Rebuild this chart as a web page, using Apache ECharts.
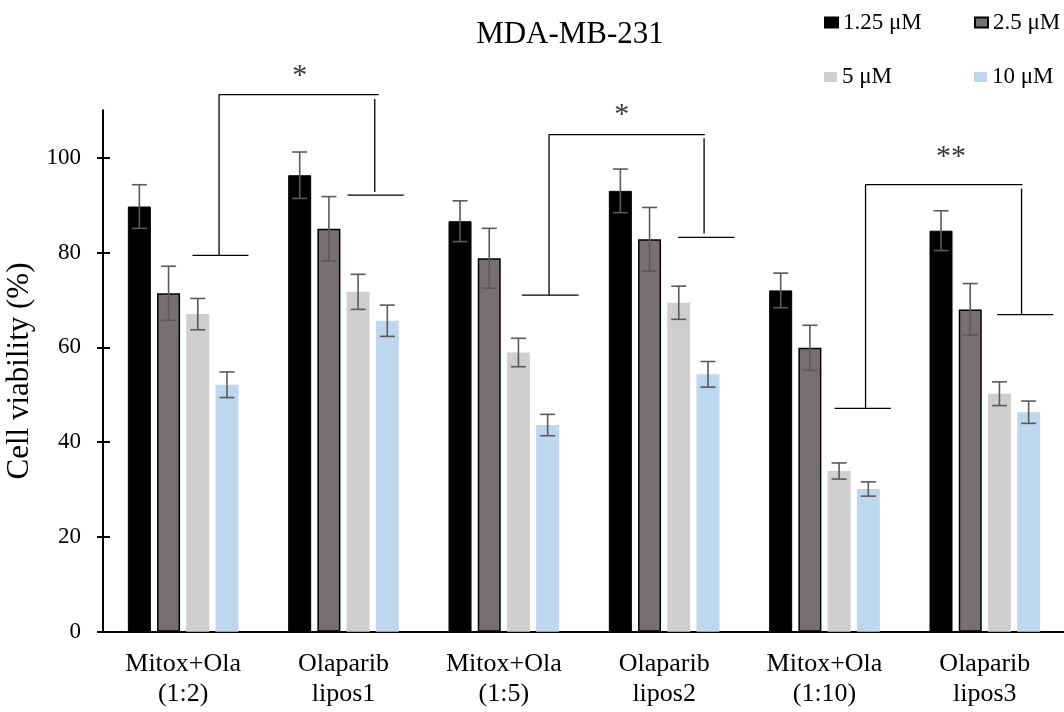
<!DOCTYPE html>
<html>
<head>
<meta charset="utf-8">
<script src="https://cdn.jsdelivr.net/npm/echarts@6/dist/echarts.min.js"></script>
<style>html,body{margin:0;padding:0;background:#fff;}#c{width:1064px;height:712px;}</style>
</head>
<body>
<div id="c"></div>
<script>
// ---- data ----
const categories = ['Mitox+Ola\n(1:2)', 'Olaparib\nlipos1', 'Mitox+Ola\n(1:5)', 'Olaparib\nlipos2', 'Mitox+Ola\n(1:10)', 'Olaparib\nlipos3'];
const seriesNames = ['1.25 μM', '2.5 μM', '5 μM', '10 μM'];
const v125 = [89.7, 96.3, 86.6, 93.0, 72.0, 84.6];
const v25  = [71.4, 85.0, 78.8, 82.8, 59.9, 68.0];
const v5   = [67.0, 71.7, 58.9, 69.4, 33.9, 50.2];
const v10  = [52.1, 65.6, 43.6, 54.3, 30.1, 46.3];
const e125 = [4.6, 4.9, 4.3, 4.6, 3.65, 4.2];
const e25  = [5.7, 6.8, 6.3, 6.7, 4.75, 5.45];
const e5   = [3.3, 3.7, 3.0, 3.5, 1.7, 2.5];
const e10  = [2.7, 3.3, 2.25, 2.7, 1.5, 2.35];
const yTicks = [0, 20, 40, 60, 80, 100];
// significance brackets, in (category position 0..6, value) units
const bracketSegments = [
  [[0.558, 79.4], [0.907, 79.4]],
  [[0.724, 79.4], [0.724, 113.3], [1.720, 113.3]],
  [[1.695, 112.4], [1.695, 92.75]],
  [[1.525, 92.1], [1.876, 92.1]],
  [[2.612, 71.0], [2.966, 71.0]],
  [[2.782, 71.0], [2.782, 104.85], [3.754, 104.85]],
  [[3.749, 104.1], [3.749, 84.0]],
  [[3.587, 83.2], [3.939, 83.2]],
  [[4.563, 47.1], [4.914, 47.1]],
  [[4.756, 47.1], [4.756, 94.3], [5.735, 94.3]],
  [[5.729, 93.5], [5.729, 66.9]],
  [[5.577, 66.9], [5.926, 66.9]]
];
const starMarks = [[1.227, 117.3, '*'], [3.236, 109.0, '*'], [5.289, 100.2, '**']];

// ---- styling ----
const FONT = "'Liberation Serif','Times New Roman',serif";
const values = [v125, v25, v5, v10];
const errors = [e125, e25, e5, e10];
const colors = ['#000000', '#767171', '#D0CECE', '#BDD7EE'];
const borderW = [1, 1.5, 0, 0];
const BAR_W = 23, BAR_STEP = 29.2;

const chart = echarts.init(document.getElementById('c'), null, {renderer: 'canvas'});
const series = [];
values.forEach((vals, i) => {
  series.push({
    type: 'bar', name: seriesNames[i], data: vals, barWidth: BAR_W, barGap: '27%',
    itemStyle: {color: colors[i], borderColor: '#000', borderWidth: borderW[i]},
    z: 2, silent: true
  });
});
values.forEach((vals, i) => {
  series.push({
    type: 'custom', name: 'err' + i, xAxisIndex: 0, yAxisIndex: 0, z: 5, silent: true,
    data: vals.map((v, k) => [k, v, errors[i][k]]),
    encode: {x: 0, y: 1},
    renderItem: function (params, api) {
      const k = api.value(0), v = api.value(1), e = api.value(2);
      const off = (i - 1.5) * BAR_STEP;
      const pt = api.coord([k, v + e]);
      const pb = api.coord([k, v - e]);
      const x = pt[0] + off;
      const st = {stroke: '#5a5a5a', lineWidth: 1.6};
      return {type: 'group', children: [
        {type: 'line', shape: {x1: x, y1: pt[1], x2: x, y2: pb[1]}, style: st},
        {type: 'line', shape: {x1: x - 7.5, y1: pt[1], x2: x + 7.5, y2: pt[1]}, style: st},
        {type: 'line', shape: {x1: x - 7.5, y1: pb[1], x2: x + 7.5, y2: pb[1]}, style: st}
      ]};
    }
  });
});
bracketSegments.forEach((seg, j) => {
  series.push({
    type: 'line', name: 'br' + j, xAxisIndex: 1, yAxisIndex: 0, data: seg,
    symbol: 'none', clip: false, silent: true, z: 6,
    lineStyle: {color: '#000', width: 1.3}
  });
});
series.push({
  type: 'scatter', name: 'stars', xAxisIndex: 1, yAxisIndex: 0, symbolSize: 0, clip: false, silent: true, z: 7,
  data: starMarks.map(s => ({value: [s[0], s[1]], txt: s[2]})),
  label: {show: true, position: 'inside', formatter: p => p.data.txt, fontSize: 30, fontFamily: FONT, color: '#000'}
});

const option = {
  animation: false,
  backgroundColor: '#fff',
  title: {text: 'MDA-MB-231', left: 565, top: 14, textAlign: 'center',
    textStyle: {fontSize: 31, fontWeight: 'normal', fontFamily: FONT, color: '#000'}},
  legend: seriesNames.map((n, i) => ({
    data: [n], left: (i % 2) ? 974 : 824, top: i < 2 ? 11 : 65.5, icon: 'rect',
    itemWidth: 13, itemHeight: 10, padding: 0, selectedMode: false,
    textStyle: {fontSize: 23, fontFamily: FONT, color: '#000'}
  })),
  grid: {left: 103, top: 110.3, width: 962, height: 521.4, containLabel: false, outerBoundsMode: 'none'},
  xAxis: [
    {type: 'category', data: categories,
      axisLine: {lineStyle: {color: '#000', width: 2}}, axisTick: {show: false},
      axisLabel: {interval: 0, fontSize: 26, lineHeight: 30, margin: 17, fontFamily: FONT, color: '#000'}},
    {type: 'value', min: 0, max: 6, show: false}
  ],
  yAxis: [
    {type: 'value', min: 0, max: 110, interval: 20,
      axisLine: {show: true, lineStyle: {color: '#000', width: 2}},
      axisTick: {show: true, inside: true, length: 7, customValues: yTicks, lineStyle: {color: '#000', width: 2}},
      axisLabel: {customValues: yTicks, margin: 22, fontSize: 23, fontFamily: FONT, color: '#000'},
      splitLine: {show: false},
      name: 'Cell viability (%)', nameLocation: 'middle', nameGap: 60,
      nameTextStyle: {fontSize: 31, fontFamily: FONT, color: '#000'}},
    {type: 'value', min: 0, max: 110, interval: 20, position: 'left',
      axisLine: {show: false},
      axisTick: {show: true, inside: false, length: 6, customValues: yTicks, lineStyle: {color: '#000', width: 2}},
      axisLabel: {show: false}, splitLine: {show: false}}
  ],
  series: series
};
chart.setOption(option);
</script>
</body>
</html>
